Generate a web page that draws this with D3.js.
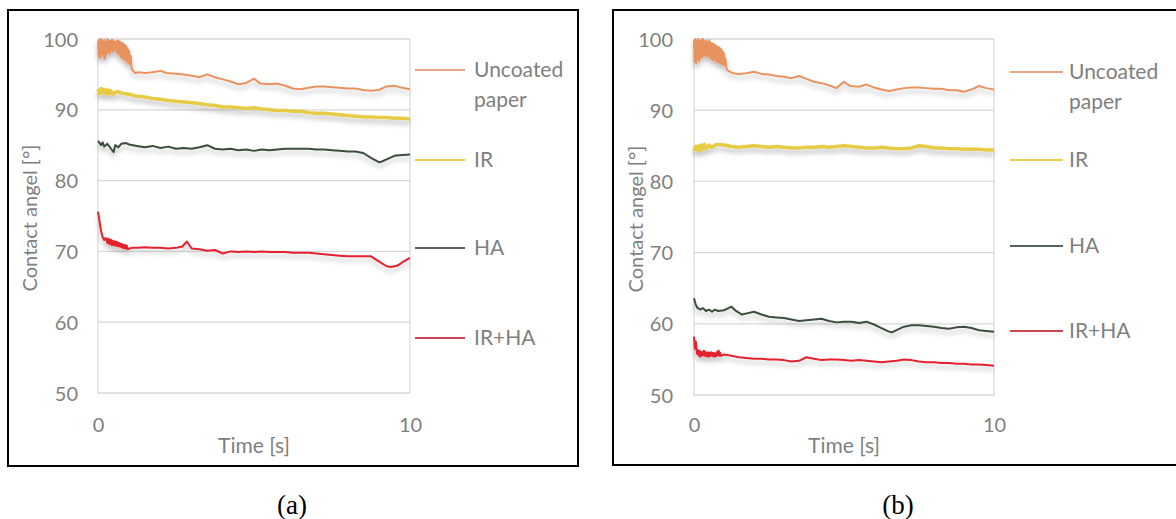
<!DOCTYPE html>
<html>
<head>
<meta charset="utf-8">
<script src="https://cdn.jsdelivr.net/npm/d3@7"></script>
<style>
  html, body { margin: 0; padding: 0; background: #fff; }
  svg { display: block; }
</style>
</head>
<body>
<svg id="chart" width="1176" height="519"></svg>
<script>
// Axis ticks
const timeTicks = [0, 10];
const angleTicks = [50, 60, 70, 80, 90, 100];
const seriesNames = ["Uncoated paper", "IR", "HA", "IR+HA"];
const panelLabels = ["(a)", "(b)"];

// Contact angle [°] vs time [s] — panel (a)
const uncoatedA = [[0,99.8],[0.025,97.6],[0.05,99.9],[0.075,97.3],[0.1,100],[0.125,97.9],[0.15,99.7],[0.175,97.5],[0.2,99.9],[0.225,97.2],[0.25,99.6],[0.275,97.8],[0.3,100],[0.325,98.1],[0.35,99.8],[0.375,97.9],[0.4,99.7],[0.425,98.4],[0.45,99.9],[0.475,98.2],[0.5,99.8],[0.525,98.5],[0.55,99.6],[0.575,98.3],[0.6,99.7],[0.625,98.0],[0.65,99.8],[0.675,97.8],[0.7,99.6],[0.725,97.5],[0.75,99.5],[0.775,97.3],[0.8,99.4],[0.825,97.1],[0.85,99.2],[0.875,97.0],[0.9,99.0],[0.925,96.8],[0.95,98.7],[0.975,96.6],[1.0,98.3],[1.025,96.4],[1.05,97.6],[1.075,96.0],[1.1,95.6],[1.2,95.2],[1.3,95.3],[1.5,95.2],[1.75,95.3],[2.0,95.5],[2.2,95.2],[2.5,95.1],[2.75,95.0],[3.0,94.8],[3.25,94.6],[3.5,95.0],[3.75,94.6],[4.0,94.3],[4.25,94.0],[4.5,93.6],[4.75,93.8],[5.0,94.4],[5.2,93.7],[5.5,93.6],[5.75,93.7],[6.0,93.4],[6.25,93.0],[6.5,92.9],[6.75,93.1],[7.0,93.3],[7.25,93.3],[7.5,93.2],[7.75,93.1],[8.0,93.0],[8.25,93.0],[8.5,92.8],[8.75,92.7],[9.0,92.8],[9.25,93.3],[9.5,93.4],[9.75,93.1],[10.0,92.9]];
const irA = [[0,92.9],[0.05,92.3],[0.1,93.0],[0.15,92.4],[0.2,92.9],[0.25,92.3],[0.3,92.8],[0.35,92.2],[0.4,92.7],[0.5,92.2],[0.6,92.6],[0.8,92.3],[1.0,92.2],[1.25,91.9],[1.5,91.8],[1.75,91.6],[2.0,91.5],[2.25,91.3],[2.5,91.2],[2.75,91.1],[3.0,91.0],[3.25,90.9],[3.5,90.7],[3.75,90.6],[4.0,90.4],[4.25,90.4],[4.5,90.3],[4.75,90.2],[5.0,90.3],[5.25,90.1],[5.5,90.0],[5.75,89.9],[6.0,89.9],[6.25,89.8],[6.5,89.8],[6.75,89.6],[7.0,89.5],[7.25,89.5],[7.5,89.4],[7.75,89.3],[8.0,89.2],[8.25,89.1],[8.5,89.0],[8.75,89.0],[9.0,88.9],[9.25,88.9],[9.5,88.8],[9.75,88.8],[10,88.7]];
const haA = [[0,85.6],[0.1,85.0],[0.15,85.4],[0.2,84.8],[0.3,85.2],[0.4,84.6],[0.5,84.0],[0.55,85.0],[0.65,84.7],[0.75,85.2],[0.9,85.3],[1.0,85.1],[1.25,84.9],[1.5,84.7],[1.75,84.9],[2.0,84.6],[2.25,84.8],[2.5,84.5],[2.75,84.6],[3.0,84.5],[3.25,84.7],[3.5,85.0],[3.75,84.5],[4.0,84.4],[4.25,84.5],[4.5,84.3],[4.75,84.4],[5.0,84.2],[5.25,84.4],[5.5,84.3],[5.75,84.4],[6.0,84.5],[6.25,84.5],[6.5,84.5],[6.75,84.5],[7.0,84.4],[7.25,84.4],[7.5,84.3],[7.75,84.2],[8.0,84.1],[8.25,84.1],[8.5,83.9],[8.75,83.2],[9.0,82.6],[9.1,82.7],[9.25,83.0],[9.5,83.5],[9.75,83.6],[10,83.7]];
const irHaA = [[0,75.6],[0.05,74.2],[0.1,72.8],[0.15,72.0],[0.2,71.6],[0.25,71.9],[0.3,71.2],[0.325,71.8],[0.35,71.1],[0.375,71.7],[0.4,71.0],[0.425,71.6],[0.45,70.9],[0.475,71.5],[0.5,70.9],[0.525,71.4],[0.55,70.8],[0.575,71.4],[0.6,70.8],[0.625,71.3],[0.65,70.7],[0.675,71.2],[0.7,70.7],[0.725,71.1],[0.75,70.6],[0.775,71.0],[0.8,70.5],[0.825,70.9],[0.85,70.4],[0.875,70.9],[0.9,70.4],[0.925,70.8],[0.95,70.3],[1.0,70.4],[1.1,70.5],[1.25,70.5],[1.5,70.6],[1.75,70.5],[2.0,70.5],[2.25,70.4],[2.5,70.5],[2.7,70.7],[2.85,71.4],[3.0,70.4],[3.25,70.3],[3.5,70.1],[3.75,70.2],[4.0,69.7],[4.25,70.0],[4.5,69.9],[4.75,70.0],[5.0,69.9],[5.25,70.0],[5.5,69.9],[5.75,69.9],[6.0,69.9],[6.25,69.8],[6.5,69.8],[6.75,69.8],[7.0,69.7],[7.25,69.6],[7.5,69.5],[7.75,69.4],[8.0,69.3],[8.25,69.3],[8.5,69.3],[8.75,69.3],[9.0,68.6],[9.25,67.9],[9.4,67.8],[9.6,68.0],[9.8,68.6],[10,69.1]];

// Contact angle [°] vs time [s] — panel (b)
const uncoatedB = [[0,99.9],[0.025,96.8],[0.05,100],[0.075,96.6],[0.1,99.8],[0.125,97.1],[0.15,100],[0.175,96.9],[0.2,99.7],[0.225,97.3],[0.25,99.9],[0.275,97.5],[0.3,100],[0.325,97.6],[0.35,99.7],[0.375,97.8],[0.4,99.8],[0.425,97.5],[0.45,99.6],[0.475,97.7],[0.5,99.8],[0.525,97.4],[0.55,99.5],[0.575,97.2],[0.6,99.4],[0.625,97.0],[0.65,99.3],[0.675,97.2],[0.7,99.2],[0.725,96.9],[0.75,99.0],[0.775,96.8],[0.8,98.9],[0.825,96.7],[0.85,98.8],[0.875,96.6],[0.9,98.6],[0.925,96.5],[0.95,98.3],[0.975,96.4],[1.0,98.0],[1.025,96.3],[1.05,97.2],[1.075,96.0],[1.1,95.7],[1.15,95.5],[1.3,95.2],[1.5,95.1],[1.75,95.2],[2.0,95.4],[2.25,95.1],[2.5,95.0],[2.75,94.8],[3.0,94.7],[3.25,94.5],[3.5,94.8],[3.75,94.4],[4.0,94.0],[4.25,93.8],[4.5,93.5],[4.75,93.1],[5.0,94.0],[5.2,93.4],[5.5,93.3],[5.75,93.6],[6.0,93.2],[6.25,92.9],[6.5,92.7],[6.75,92.9],[7.0,93.1],[7.25,93.2],[7.5,93.2],[7.75,93.1],[8.0,93.0],[8.25,93.0],[8.5,92.8],[8.75,92.8],[9.0,92.6],[9.25,92.9],[9.5,93.4],[9.75,93.1],[10.0,92.9]];
const irB = [[0,84.3],[0.05,84.9],[0.1,84.4],[0.15,85.0],[0.2,84.3],[0.25,85.1],[0.3,84.6],[0.35,85.2],[0.4,84.6],[0.5,85.1],[0.6,84.8],[0.75,85.2],[1.0,85.1],[1.25,84.9],[1.5,84.8],[1.75,84.9],[2.0,85.0],[2.25,84.9],[2.5,84.8],[2.75,84.9],[3.0,84.8],[3.25,84.7],[3.5,84.7],[3.75,84.8],[4.0,84.8],[4.25,84.9],[4.5,84.8],[4.75,84.9],[5.0,85.0],[5.25,84.9],[5.5,84.8],[5.75,84.7],[6.0,84.7],[6.25,84.8],[6.5,84.7],[6.75,84.6],[7.0,84.6],[7.25,84.7],[7.5,85.0],[7.75,84.9],[8.0,84.7],[8.25,84.7],[8.5,84.6],[8.75,84.6],[9.0,84.5],[9.25,84.5],[9.5,84.5],[9.75,84.4],[10,84.4]];
const haB = [[0,63.6],[0.05,62.8],[0.1,62.3],[0.2,62.0],[0.3,62.2],[0.4,61.8],[0.5,62.0],[0.6,61.7],[0.7,62.0],[0.8,61.8],[1.0,61.9],[1.15,62.2],[1.25,62.4],[1.4,61.8],[1.6,61.3],[1.8,61.5],[2.0,61.7],[2.25,61.3],[2.5,61.0],[2.75,60.9],[3.0,60.8],[3.25,60.6],[3.5,60.4],[3.75,60.5],[4.0,60.6],[4.25,60.7],[4.5,60.4],[4.75,60.2],[5.0,60.3],[5.25,60.3],[5.5,60.1],[5.75,60.3],[6.0,59.9],[6.25,59.4],[6.5,58.9],[6.6,58.8],[6.75,59.1],[7.0,59.6],[7.25,59.8],[7.5,59.8],[7.75,59.7],[8.0,59.6],[8.25,59.4],[8.5,59.3],[8.75,59.5],[9.0,59.6],[9.25,59.4],[9.5,59.1],[9.75,59.0],[10,58.9]];
const irHaB = [[0,58.2],[0.03,56.5],[0.06,57.5],[0.1,55.8],[0.125,56.3],[0.15,55.6],[0.175,56.2],[0.2,55.4],[0.225,56.1],[0.25,55.5],[0.275,56.0],[0.3,55.6],[0.325,56.2],[0.35,55.5],[0.375,56.1],[0.4,55.5],[0.425,55.9],[0.45,55.4],[0.475,56.0],[0.5,55.4],[0.525,55.9],[0.55,55.5],[0.575,56.0],[0.6,55.5],[0.625,55.9],[0.65,55.4],[0.675,55.9],[0.7,55.4],[0.725,55.8],[0.75,55.5],[0.775,56.1],[0.8,55.6],[0.825,56.2],[0.85,55.5],[0.875,55.9],[0.9,55.5],[1.0,55.7],[1.25,55.5],[1.5,55.3],[1.75,55.2],[2.0,55.1],[2.25,55.1],[2.5,55.0],[2.75,55.0],[3.0,54.9],[3.25,54.7],[3.5,54.8],[3.75,55.3],[4.0,55.1],[4.25,54.9],[4.5,55.0],[4.75,55.0],[5.0,54.9],[5.25,54.8],[5.5,54.9],[5.75,54.8],[6.0,54.7],[6.25,54.6],[6.5,54.7],[6.75,54.8],[7.0,55.0],[7.25,54.9],[7.5,54.7],[7.75,54.6],[8.0,54.6],[8.25,54.5],[8.5,54.5],[8.75,54.4],[9.0,54.4],[9.25,54.3],[9.5,54.3],[9.75,54.2],[10,54.1]];

// Styling
const lineColors = ["#e8935f", "#e6cb45", "#3c4e3c", "#e3222e"];
const lineWidths = [2, 3.5, 2, 2];
const legendColors = ["#e8a685", "#e8d04a", "#56645a", "#cf4452"];
const textColor = "#7f7f7f";
const gridColor = "#d9d9d9";
const font = "Lato, 'Open Sans', sans-serif";

const panels = [
  { frame: [8, 10, 578, 466], plot: { left: 98, right: 410, top: 39, bottom: 393 },
    yLabelX: 78, yTitleX: 30, xLabelY: 432, xTitleY: 453,
    legend: { x1: 415, x2: 465, tx: 474, ys: [70, 160, 248, 338] }, caption: 292,
    series: [uncoatedA, irA, haA, irHaA] },
  { frame: [613, 10, 1190, 465], plot: { left: 694, right: 994, top: 39, bottom: 395 },
    yLabelX: 673, yTitleX: 636, xLabelY: 432, xTitleY: 453,
    legend: { x1: 1010, x2: 1063, tx: 1069, ys: [72, 160, 246, 331] }, caption: 898,
    series: [uncoatedB, irB, haB, irHaB] }
];

const svg = d3.select("#chart");

// Soft shadow under each series line
const defs = svg.append("defs");
const shadow = defs.append("filter").attr("id", "lineShadow")
  .attr("x", "-5%").attr("y", "-50%").attr("width", "110%").attr("height", "200%");
shadow.append("feDropShadow").attr("dx", 0).attr("dy", 4).attr("stdDeviation", 2.5)
  .attr("flood-color", "#000").attr("flood-opacity", 0.25);

panels.forEach((p, i) => {
  const g = svg.append("g");
  const x = d3.scaleLinear().domain([0, 10]).range([p.plot.left, p.plot.right]);
  const y = d3.scaleLinear().domain([50, 100]).range([p.plot.bottom, p.plot.top]);

  // gridlines
  g.append("g").selectAll("line").data(angleTicks).join("line")
    .attr("x1", p.plot.left).attr("x2", p.plot.right)
    .attr("y1", d => y(d)).attr("y2", d => y(d))
    .attr("stroke", gridColor).attr("stroke-width", 1.2);
  // plot-area frame
  g.append("rect")
    .attr("x", p.plot.left).attr("y", p.plot.top)
    .attr("width", p.plot.right - p.plot.left).attr("height", p.plot.bottom - p.plot.top)
    .attr("fill", "none").attr("stroke", gridColor).attr("stroke-width", 1.2);

  // y axis labels
  const yAxis = g.append("g").attr("transform", `translate(${p.yLabelX},0)`)
    .call(d3.axisLeft(y).tickValues(angleTicks).tickSize(0).tickPadding(0));
  yAxis.select(".domain").remove();
  yAxis.selectAll("text").attr("fill", textColor).attr("font-family", font)
    .attr("font-size", 20).attr("text-anchor", "end").attr("dy", "0.35em");

  // x axis labels
  const xAxis = g.append("g").attr("transform", `translate(0,${p.xLabelY})`)
    .call(d3.axisBottom(x).tickValues(timeTicks).tickSize(0).tickPadding(0).tickFormat(d3.format("d")));
  xAxis.select(".domain").remove();
  xAxis.selectAll("text").attr("fill", textColor).attr("font-family", font)
    .attr("font-size", 20).attr("dy", 0);

  // axis titles
  g.append("text").attr("x", (p.plot.left + p.plot.right) / 2).attr("y", p.xTitleY)
    .attr("text-anchor", "middle").attr("fill", textColor)
    .attr("font-family", font).attr("font-size", 21).text("Time [s]");
  g.append("text")
    .attr("transform", `translate(${p.yTitleX},${(p.plot.top + p.plot.bottom) / 2 + 2}) rotate(-90)`)
    .attr("text-anchor", "middle").attr("dy", "0.35em").attr("fill", textColor)
    .attr("font-family", font).attr("font-size", 20).text("Contact angel [°]");

  // series
  const line = d3.line().x(d => x(d[0])).y(d => y(d[1]));
  g.append("g").attr("filter", "url(#lineShadow)")
    .selectAll("path").data(p.series).join("path")
    .attr("d", line)
    .attr("fill", "none")
    .attr("stroke", (d, k) => lineColors[k])
    .attr("stroke-width", (d, k) => lineWidths[k])
    .attr("stroke-linejoin", "round");

  // legend
  const lg = g.append("g");
  seriesNames.forEach((name, k) => {
    const ly = p.legend.ys[k];
    lg.append("line").attr("x1", p.legend.x1).attr("x2", p.legend.x2)
      .attr("y1", ly).attr("y2", ly)
      .attr("stroke", legendColors[k]).attr("stroke-width", 2);
    const t = lg.append("text").attr("x", p.legend.tx).attr("y", ly)
      .attr("dy", "0.35em").attr("fill", textColor)
      .attr("font-family", font).attr("font-size", 21);
    if (name === "Uncoated paper") {
      t.append("tspan").attr("x", p.legend.tx).text("Uncoated");
      t.append("tspan").attr("x", p.legend.tx).attr("dy", 30).text("paper");
    } else {
      t.text(name);
    }
  });

  // panel frame
  const [fx1, fy1, fx2, fy2] = p.frame;
  g.append("rect").attr("x", fx1).attr("y", fy1)
    .attr("width", fx2 - fx1).attr("height", fy2 - fy1)
    .attr("fill", "none").attr("stroke", "#000").attr("stroke-width", 2);

  // caption
  svg.append("text").attr("x", p.caption).attr("y", 514)
    .attr("text-anchor", "middle").attr("fill", "#000")
    .attr("font-family", "'Liberation Serif', 'Times New Roman', serif")
    .attr("font-size", 27).text(panelLabels[i]);
});
</script>
</body>
</html>
